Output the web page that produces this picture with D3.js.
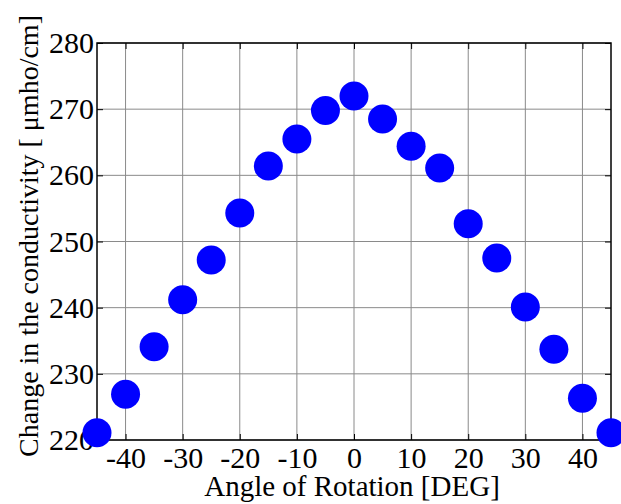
<!DOCTYPE html>
<html>
<head>
<meta charset="utf-8">
<script src="https://cdn.jsdelivr.net/npm/d3@7"></script>
<style>
  body { margin: 0; background: #fff; }
  svg text { font-family: "Liberation Serif", "Times New Roman", serif; fill: #000; }
</style>
</head>
<body>
<svg id="chart" width="621" height="504"></svg>
<script>
// data
var angles = [-45, -40, -35, -30, -25, -20, -15, -10, -5, 0, 5, 10, 15, 20, 25, 30, 35, 40, 45];
var conductivity = [221.1, 226.9, 234.1, 241.2, 247.2, 254.3, 261.4, 265.5, 269.8, 272.0,
                    268.5, 264.4, 261.1, 252.7, 247.5, 240.1, 233.7, 226.3, 221.1];
var xTicks = [-40, -30, -20, -10, 0, 10, 20, 30, 40];
var yTicks = [220, 230, 240, 250, 260, 270, 280];

var margin = {left: 97, top: 43, right: 10, bottom: 64};
var width = 621 - margin.left - margin.right,
    height = 504 - margin.top - margin.bottom;

var svg = d3.select("#chart");
var g = svg.append("g")
    .attr("transform", "translate(" + margin.left + "," + margin.top + ")");

var x = d3.scaleLinear().domain([-45, 45]).range([0, width]);
var y = d3.scaleLinear().domain([220, 280]).range([height, 0]);

// plain hyphen for negatives, like the original
var fmt = function (d) { return String(d); };

// grid
g.selectAll("line.vgrid").data(xTicks).enter().append("line")
    .attr("class", "vgrid")
    .attr("x1", function (d) { return x(d); })
    .attr("x2", function (d) { return x(d); })
    .attr("y1", 0).attr("y2", height)
    .attr("stroke", "#8a8a8a").attr("stroke-width", 1);
g.selectAll("line.hgrid").data(yTicks).enter().append("line")
    .attr("class", "hgrid")
    .attr("x1", 0).attr("x2", width)
    .attr("y1", function (d) { return y(d); })
    .attr("y2", function (d) { return y(d); })
    .attr("stroke", "#8a8a8a").attr("stroke-width", 1);

// axes (inner ticks)
var xAxis = g.append("g").attr("transform", "translate(0," + height + ")")
    .call(d3.axisBottom(x).tickValues(xTicks).tickSize(-6).tickPadding(7).tickFormat(fmt));
var xTop = g.append("g")
    .call(d3.axisTop(x).tickValues(xTicks).tickSize(-6).tickFormat(""));
var yAxis = g.append("g")
    .call(d3.axisLeft(y).tickValues(yTicks).tickSize(-6).tickPadding(3).tickFormat(fmt));
var yRight = g.append("g").attr("transform", "translate(" + width + ",0)")
    .call(d3.axisRight(y).tickValues(yTicks).tickSize(-6).tickFormat(""));

[xAxis, xTop, yAxis, yRight].forEach(function (a) {
    a.select(".domain").remove();
    a.selectAll(".tick line").attr("stroke", "#000");
    a.selectAll("text").style("font-size", "30px").attr("font-family", null);
});
xAxis.selectAll("text").attr("dy", "0.71em");

g.append("rect")
    .attr("width", width).attr("height", height)
    .attr("fill", "none").attr("stroke", "#000").attr("stroke-width", 1.5);

// points
g.selectAll("circle").data(angles).enter().append("circle")
    .attr("cx", function (d) { return x(d); })
    .attr("cy", function (d, i) { return y(conductivity[i]); })
    .attr("r", 14.5)
    .attr("fill", "#0000ff");

// labels
svg.append("text")
    .attr("x", margin.left + width / 2 - 2)
    .attr("y", 496)
    .attr("text-anchor", "middle")
    .style("font-size", "29px")
    .text("Angle of Rotation [DEG]");

svg.append("text")
    .attr("transform", "translate(38,236) rotate(-90)")
    .attr("text-anchor", "middle")
    .style("font-size", "28px")
    .text("Change in the conductivity [ \u03bcmho/cm]");
</script>
</body>
</html>
